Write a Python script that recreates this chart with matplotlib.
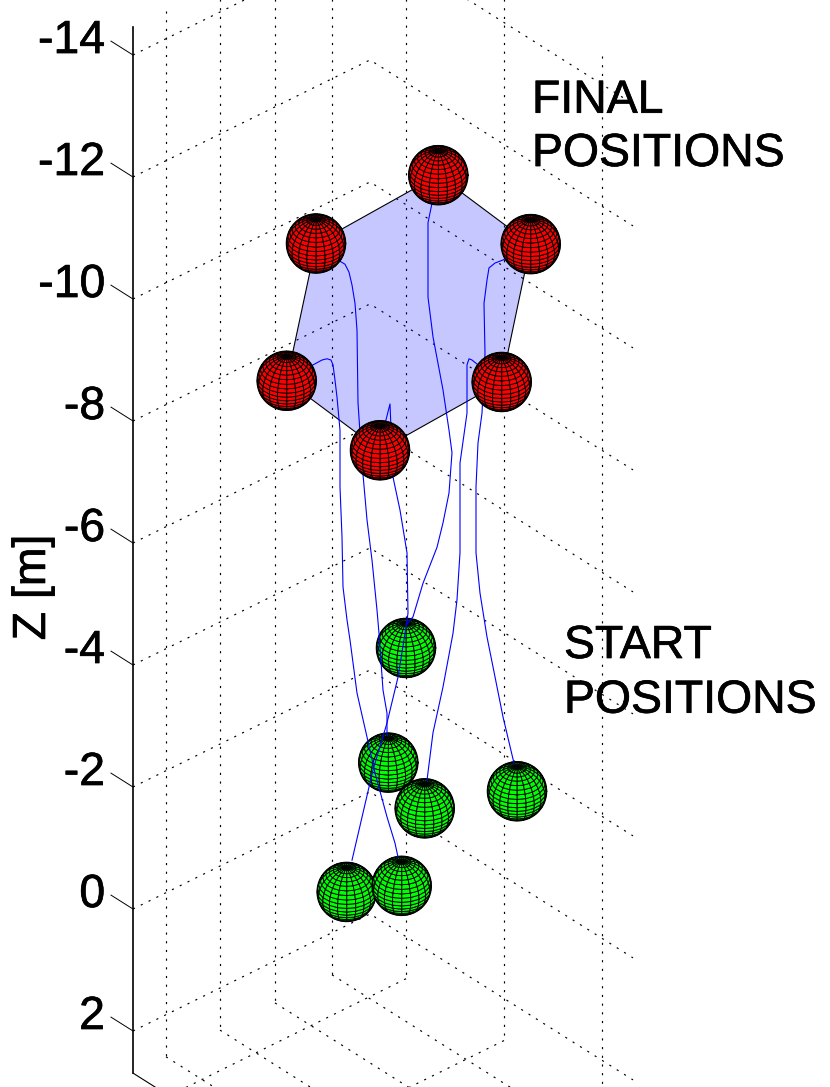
import numpy as np
import matplotlib
matplotlib.use('Agg')
import matplotlib.pyplot as plt
import matplotlib.patheffects as pe
from matplotlib.collections import PolyCollection

plt.rcParams['font.family'] = ['Liberation Sans', 'DejaVu Sans']

# x is the horizontal position on the projected view, y is Z [m]
z_ticks = [-14, -12, -10, -8, -6, -4, -2, 0, 2]
z_top = -14.46
z_bottom = 2.69
left_wall_grid_x = [166, 220, 275, 332]
right_wall_grid_x = [406, 504, 602]
axis_x = 133
back_corner_x = 370
right_corner_x = 633

# order: top, upper right, right, bottom, left, upper left (hexagon order)
final_x = [438.3, 530.7, 501.7, 380.0, 286.7, 316.0]
final_z = [-12.03, -10.90, -8.64, -7.52, -8.66, -10.91]

start_x = [406.0, 388.3, 424.7, 517.0, 346.7, 401.7]
start_z = [-4.28, -2.40, -1.65, -1.93, -0.28, -0.38]

path1_x = [316, 335, 345, 349, 352, 355, 357, 358, 362, 367, 372, 377, 379, 383, 387, 387]
path1_z = [-10.92, -10.67, -10.57, -10.44, -10.23, -9.93, -9.49, -8.30, -7.31, -6.38, -5.72, -4.90, -4.52, -3.59, -3.21, -2.85]
path2_x = [287, 313, 322, 327, 331, 333, 335, 337, 340, 340, 342, 343, 347, 350, 357, 367, 375, 387, 395, 398]
path2_z = [-8.66, -8.92, -9.00, -9.02, -9.00, -8.92, -8.67, -8.39, -7.85, -6.92, -6.10, -5.28, -4.74, -4.41, -3.54, -2.82, -2.23, -1.51, -1.08, -0.85]
path3_x = [438, 432, 428, 428, 433, 443, 449, 452, 449, 443, 437, 423, 413, 406]
path3_z = [-12.03, -11.57, -11.25, -10.03, -9.38, -8.51, -7.85, -7.48, -6.82, -6.33, -5.93, -5.34, -4.79, -4.66]
path4_x = [531, 503, 495, 489, 487, 484, 485, 482, 478, 476, 476, 480, 487, 493, 503, 514]
path4_z = [-10.90, -10.64, -10.59, -10.51, -10.31, -9.93, -9.11, -8.13, -7.64, -6.92, -5.84, -5.18, -4.46, -3.97, -3.15, -2.39]
path5_x = [502, 478, 472, 469, 467, 467, 467, 460, 460, 457, 453, 443, 433, 427]
path5_z = [-8.64, -8.92, -9.00, -9.02, -8.92, -8.59, -8.13, -7.31, -5.84, -5.07, -4.52, -3.64, -2.89, -2.11]
path6_x = [380, 386, 390, 393, 400, 407, 408, 406, 398, 387, 373, 352]
path6_z = [-7.52, -8.02, -8.28, -7.08, -6.54, -5.84, -4.85, -4.62, -3.80, -3.05, -2.28, -0.80]

paths = [(path1_x, path1_z), (path2_x, path2_z), (path3_x, path3_z),
         (path4_x, path4_z), (path5_x, path5_z), (path6_x, path6_z)]

PX_PER_M = 61.0
SLOPE_LEFT = 0.494 / PX_PER_M   # wall rising to the back corner
SLOPE_RIGHT = 0.631 / PX_PER_M  # wall falling to the right corner
SPHERE_R = 29.5
ELEV = np.radians(34)


def left_wall(x, z):
    return z - (x - axis_x) * SLOPE_LEFT


def right_wall(x, z):
    return left_wall(back_corner_x, z) + (x - back_corner_x) * SLOPE_RIGHT


def draw_sphere(ax, cx, cz, color, zorder):
    lat = np.radians(np.linspace(-90, 90, 21))
    lon = np.radians(np.linspace(0, 360, 21))
    quads = []
    for i in range(20):
        for j in range(20):
            pts = []
            depth = 0
            for a, b in [(i, j), (i, j + 1), (i + 1, j + 1), (i + 1, j)]:
                sx = np.cos(lat[a]) * np.sin(lon[b])
                sy = np.sin(lat[a]) * np.cos(ELEV) - np.cos(lat[a]) * np.cos(lon[b]) * np.sin(ELEV)
                depth += np.sin(lat[a]) * np.sin(ELEV) + np.cos(lat[a]) * np.cos(lon[b]) * np.cos(ELEV)
                pts.append((cx + SPHERE_R * sx, cz - SPHERE_R * sy / PX_PER_M))
            if depth > -0.15:
                quads.append(pts)
    ax.add_collection(PolyCollection(quads, facecolors=color, edgecolors='black',
                                     linewidths=0.65, zorder=zorder))
    # outline of the sphere
    t = np.linspace(0, 2 * np.pi, 80)
    ax.plot(cx + SPHERE_R * np.cos(t), cz + SPHERE_R * np.sin(t) / PX_PER_M,
            color='black', lw=1.1, zorder=zorder)


def label(ax, x, z, s, **kw):
    t = ax.text(x, z, s, fontsize=33.4, color='black', zorder=6, **kw)
    t.set_path_effects([pe.withStroke(linewidth=0.5, foreground='black')])


fig = plt.figure(figsize=(8.3, 10.87), dpi=100)
ax = fig.add_axes([0, 0, 1, 1])
ax.set_xlim(0, 830)
ax.set_ylim(2.918, -14.902)
ax.axis('off')

dots = dict(color='black', lw=0.85, linestyle=(0, (1.8, 5.56)), dash_capstyle='butt', zorder=1)

# grid on the two back walls
for z in z_ticks:
    ax.plot([axis_x, back_corner_x, right_corner_x],
            [left_wall(axis_x, z), left_wall(back_corner_x, z), right_wall(right_corner_x, z)], **dots)
for x in left_wall_grid_x:
    ax.plot([x, x], [left_wall(x, z_top), left_wall(x, z_bottom)], **dots)
for x in right_wall_grid_x:
    ax.plot([x, x], [right_wall(x, z_top), right_wall(x, z_bottom)], **dots)

# grid on the floor
floor_run_r = right_corner_x - back_corner_x
floor_run_l = back_corner_x - axis_x
for x in left_wall_grid_x:
    z0 = left_wall(x, z_bottom)
    ax.plot([x, x + floor_run_r], [z0, z0 + floor_run_r * SLOPE_RIGHT], **dots)
for x in right_wall_grid_x:
    z0 = right_wall(x, z_bottom)
    ax.plot([x, x - floor_run_l], [z0, z0 + floor_run_l * SLOPE_LEFT], **dots)

# z axis, ticks and labels
ax.plot([axis_x, axis_x], [z_top, z_bottom], color='black', lw=1.2, zorder=2)
ax.plot([axis_x, axis_x + floor_run_r], [z_bottom, z_bottom + floor_run_r * SLOPE_RIGHT],
        color='black', lw=0.8, zorder=2)
for z in z_ticks:
    ax.plot([axis_x - 22, axis_x], [z - 22 * SLOPE_RIGHT, z], color='black', lw=0.7, zorder=2)
    label(ax, 105, z - 19 / PX_PER_M, str(z), ha='right', va='center_baseline')
label(ax, 45, -5.27, 'Z [m]', rotation=90, rotation_mode='anchor', ha='center', va='baseline')

# plane through the final positions
ax.fill(final_x, final_z, facecolor=(0, 0, 1, 0.22), edgecolor='black', lw=0.8, zorder=2)

for x, z in zip(start_x, start_z):
    draw_sphere(ax, x, z, '#00ff00', 3)

for px, pz in paths:
    ax.plot(px, pz, color='#0000ff', lw=0.8, zorder=4)

for x, z in zip(final_x, final_z):
    draw_sphere(ax, x, z, '#ff0000', 5)

label(ax, 532, (112.7 - 909) / PX_PER_M, 'FINAL', va='baseline')
label(ax, 532, (166 - 909) / PX_PER_M, 'POSITIONS', va='baseline')
label(ax, 564, (658 - 909) / PX_PER_M, 'START', va='baseline')
label(ax, 564, (712.7 - 909) / PX_PER_M, 'POSITIONS', va='baseline')

fig.savefig('out.png', dpi=100)
